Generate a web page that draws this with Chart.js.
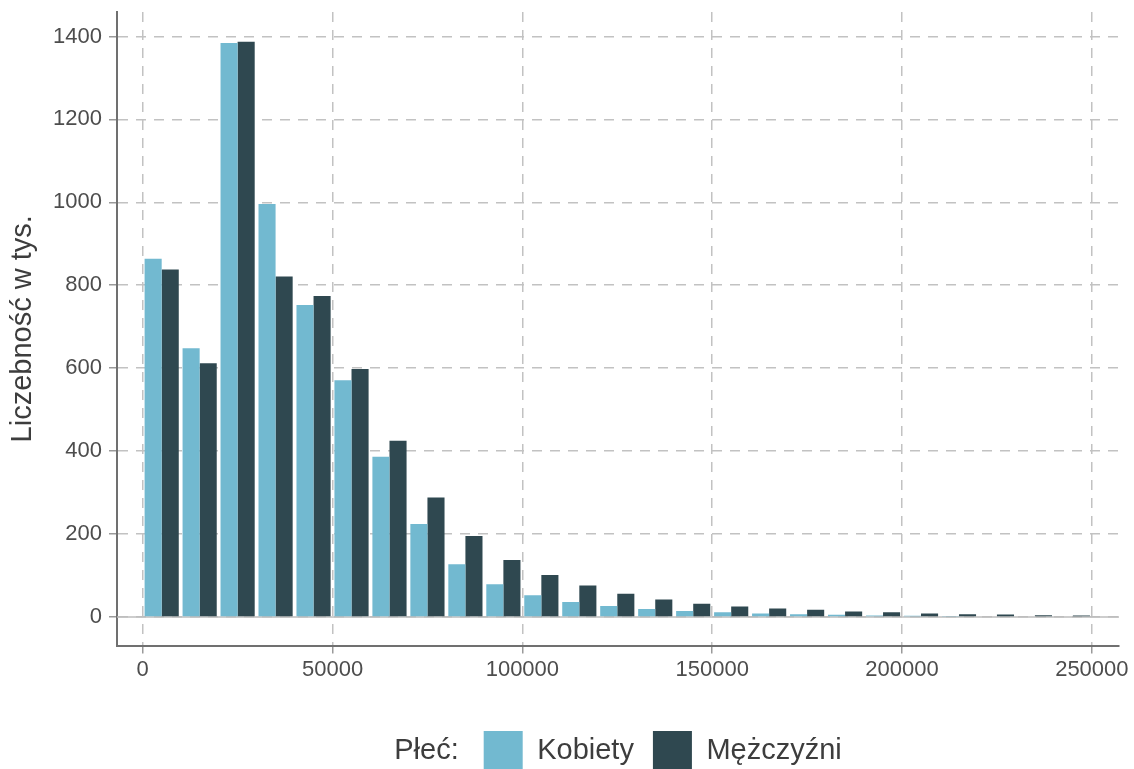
<!DOCTYPE html>
<html lang="pl">
<head>
<meta charset="utf-8">
<script src="https://cdn.jsdelivr.net/npm/chart.js@4.4.1/dist/chart.umd.min.js"></script>
<style>
  html, body { margin: 0; padding: 0; background: #fff; }
  #wrap { width: 1134px; height: 769px; position: relative; }
</style>
</head>
<body>
<div id="wrap"><canvas id="chart"></canvas></div>
<script>
// income bins (centres), width 10000
const binCenters = [5000, 15000, 25000, 35000, 45000, 55000, 65000, 75000, 85000, 95000,
  105000, 115000, 125000, 135000, 145000, 155000, 165000, 175000, 185000, 195000,
  205000, 215000, 225000, 235000, 245000];

// counts in thousands
const kobiety = [864, 648, 1384, 996, 752, 571, 386, 224, 127, 79,
  52, 36, 26, 19, 14, 11, 8, 6.5, 5, 3.5,
  2.5, 2, 1.5, 1.5, 1.5];
const mezczyzni = [838, 612, 1387, 821, 774, 598, 425, 288, 195, 137,
  101, 76, 56, 42, 32, 25, 20, 17, 13, 11,
  8, 6.5, 6, 4, 3.5];

const xTicks = [0, 50000, 100000, 150000, 200000, 250000];
const yTicks = [0, 200, 400, 600, 800, 1000, 1200, 1400];

const seriesNames = ['Kobiety', 'Mężczyźni'];
const legendTitle = 'Płeć:';
const yTitle = 'Liczebność w tys.';

const FONT = '"Liberation Sans", Arial, Helvetica, sans-serif';
const LEGEND_SIZE = 29;
Chart.defaults.font.family = FONT;

const toPoints = vals => vals.map((v, i) => ({ x: binCenters[i], y: v }));

// solid line at y = 0 (ggplot hline)
const zeroLine = {
  id: 'zeroLine',
  beforeDatasetsDraw(chart) {
    const { ctx, chartArea: a, scales: { y } } = chart;
    const py = y.getPixelForValue(0);
    ctx.save();
    ctx.strokeStyle = '#bdbdbd';
    ctx.lineWidth = 1.5;
    ctx.beginPath();
    ctx.moveTo(a.left, py);
    ctx.lineTo(a.right, py);
    ctx.stroke();
    ctx.restore();
  }
};

// inline legend title "Płeć:" and centring of the whole group on the panel
const legendInline = {
  id: 'legendInline',
  afterLayout(chart) {
    const lg = chart.legend;
    if (!lg || !lg.lineWidths) return;
    const pad = lg.options.labels.padding;
    const ctx = chart.ctx;
    ctx.save();
    ctx.font = LEGEND_SIZE + 'px ' + FONT;
    const tw = ctx.measureText(legendTitle).width;
    ctx.restore();
    const gap = 25;
    const itemsW = lg.lineWidths[0] - pad;
    const mid = (chart.chartArea.left + chart.chartArea.right) / 2;
    const titleX = mid - (tw + gap + itemsW) / 2;
    const w = lg.width;
    lg.left = titleX + tw + gap - pad;
    lg.right = lg.left + w;
    const h = lg.height;
    lg.top = chart.height - 38 - pad;
    lg.bottom = lg.top + h;
    lg._titleX = titleX;
  },
  afterDraw(chart) {
    const lg = chart.legend;
    if (!lg || lg._titleX === undefined) return;
    const ctx = chart.ctx;
    const pad = lg.options.labels.padding;
    ctx.save();
    ctx.font = LEGEND_SIZE + 'px ' + FONT;
    ctx.fillStyle = '#3d3d3d';
    ctx.textBaseline = 'middle';
    ctx.textAlign = 'left';
    ctx.fillText(legendTitle, lg._titleX, lg.top + pad + 39 / 2);
    ctx.restore();
  }
};

const gridOpts = {
  offset: false,
  color: '#c2c2c2',
  lineWidth: 1.5,
  tickColor: '#9a9a9a',
  tickLength: 8,
  tickWidth: 1.5,
  tickBorderDash: []
};

new Chart(document.getElementById('chart'), {
  type: 'bar',
  data: {
    datasets: [
      { label: seriesNames[0], data: toPoints(kobiety), backgroundColor: '#72b9d0', borderWidth: 0 },
      { label: seriesNames[1], data: toPoints(mezczyzni), backgroundColor: '#2f4850', borderWidth: 0 }
    ]
  },
  options: {
    responsive: true,
    maintainAspectRatio: false,
    animation: false,
    categoryPercentage: 0.9,
    barPercentage: 1,
    layout: { padding: { top: 12, right: 15, left: 0, bottom: 0 } },
    plugins: {
      tooltip: { enabled: false },
      legend: {
        position: 'bottom',
        align: 'start',
        labels: {
          boxWidth: 39,
          boxHeight: 39,
          padding: 19,
          color: '#3d3d3d',
          font: { size: LEGEND_SIZE }
        }
      }
    },
    scales: {
      x: {
        type: 'linear',
        min: -6770,
        max: 257150,
        offset: false,
        afterFit: s => { s.height = s.chart.height - 645.5 - s.chart.legend.height; },
        afterBuildTicks: s => { s.ticks = xTicks.map(v => ({ value: v })); },
        grid: gridOpts,
        border: { display: true, color: '#707070', width: 2, dash: [10, 8] },
        ticks: {
          maxRotation: 0,
          autoSkip: false,
          padding: 3,
          color: '#4d4d4d',
          font: { size: 22 },
          callback: v => String(v)
        }
      },
      y: {
        min: -69,
        max: 1459,
        afterFit: s => { s.width = 117; s.paddingTop = 0; s.paddingBottom = 0; },
        afterBuildTicks: s => { s.ticks = yTicks.map(v => ({ value: v })); },
        grid: gridOpts,
        border: { display: true, color: '#707070', width: 2, dash: [10, 8] },
        ticks: {
          autoSkip: false,
          padding: 7,
          color: '#4d4d4d',
          font: { size: 22 },
          callback: v => String(v)
        },
        title: {
          display: true,
          text: yTitle,
          color: '#3d3d3d',
          font: { size: 29 },
          padding: { top: 6, bottom: 0 }
        }
      }
    }
  },
  plugins: [zeroLine, legendInline]
});
</script>
</body>
</html>
